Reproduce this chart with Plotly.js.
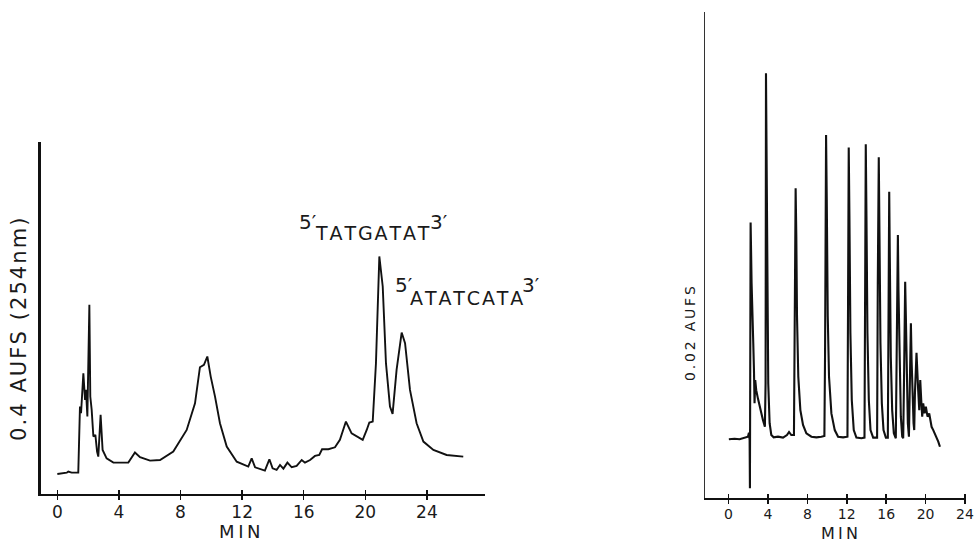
<!DOCTYPE html>
<html>
<head>
<meta charset="utf-8">
<script src="https://cdn.plot.ly/plotly-3.0.1.min.js"></script>
<style>html,body{margin:0;padding:0;background:#fff;}#chart{width:977px;height:542px;}</style>
</head>
<body>
<div id="chart"></div>
<script>
// Left chromatogram: time (min) and absorbance (AU, 0.4 AUFS full scale)
var leftTime = [0, 0.61, 0.71, 0.93, 1.36, 1.47, 1.54, 1.62, 1.69, 1.80, 1.86, 1.95, 2.08, 2.14, 2.23, 2.34, 2.47, 2.58, 2.66, 2.81, 2.94, 3.20, 3.64, 4.61, 5.04, 5.37, 6.02, 6.67, 7.53, 8.40, 8.94, 9.26, 9.52, 9.74, 9.96, 10.24, 10.56, 11.00, 11.65, 12.40, 12.62, 12.84, 13.48, 13.77, 13.98, 14.24, 14.46, 14.68, 14.94, 15.22, 15.54, 15.87, 16.08, 16.41, 16.73, 17.01, 17.19, 17.60, 18.03, 18.35, 18.74, 19.11, 19.44, 19.83, 20.09, 20.26, 20.48, 20.69, 20.91, 21.13, 21.34, 21.60, 21.77, 22.03, 22.36, 22.58, 22.90, 23.33, 23.77, 24.42, 25.28, 26.36];
var leftAbs = [0.0227, 0.0242, 0.0254, 0.0242, 0.0242, 0.0992, 0.0917, 0.1106, 0.1371, 0.1068, 0.1182, 0.0879, 0.2148, 0.1106, 0.0955, 0.0652, 0.0670, 0.0481, 0.0424, 0.0898, 0.0500, 0.0405, 0.0356, 0.0356, 0.0470, 0.0417, 0.0379, 0.0386, 0.0481, 0.0727, 0.1030, 0.1439, 0.1466, 0.1561, 0.1333, 0.1106, 0.0803, 0.0538, 0.0367, 0.0311, 0.0405, 0.0303, 0.0265, 0.0394, 0.0292, 0.0273, 0.0330, 0.0288, 0.0356, 0.0303, 0.0318, 0.0386, 0.0356, 0.0386, 0.0432, 0.0443, 0.0508, 0.0508, 0.0530, 0.0614, 0.0822, 0.0689, 0.0652, 0.0614, 0.0727, 0.0811, 0.0822, 0.1485, 0.2697, 0.2356, 0.1485, 0.0992, 0.0909, 0.1409, 0.1833, 0.1712, 0.1182, 0.0803, 0.0595, 0.0500, 0.0443, 0.0424];

// Right chromatogram: time (min) and absorbance (mAU, 0.02 AUFS full scale)
var rightTime = [0.03,0.61,1.12,1.63,1.97,2.07,2.14,2.17,2.20,2.24,
  2.34,2.41,2.51,2.58,2.64,2.71,2.81,2.98,3.22,3.49,
  3.69,3.76,3.80,3.86,3.93,4.03,4.17,4.34,4.58,5.02,
  5.53,5.93,6.14,6.37,6.64,6.71,6.81,6.88,6.95,7.08,
  7.29,7.56,7.90,8.41,8.92,9.42,9.73,9.80,9.90,9.97,
  10.07,10.20,10.44,10.78,11.12,11.63,12.07,12.14,12.20,12.27,
  12.37,12.51,12.71,12.98,13.49,13.80,13.86,13.93,14.00,14.10,
  14.24,14.41,14.68,15.08,15.15,15.25,15.32,15.42,15.56,15.73,
  15.97,16.17,16.24,16.31,16.37,16.47,16.61,16.78,16.98,17.05,
  17.19,17.25,17.36,17.49,17.63,17.73,17.83,17.93,18.00,18.10,
  18.20,18.31,18.37,18.51,18.58,18.68,18.78,18.85,18.92,19.08,
  19.15,19.25,19.36,19.46,19.56,19.66,19.76,19.90,20.03,20.20,
  20.37,20.61,20.78,20.95,21.12,21.29,21.46];
var rightAbs = [1.82,1.84,1.82,1.90,1.93,2.10,1.79,-0.27,5.62,11.04,
  8.45,6.61,5.90,4.77,3.35,4.34,3.91,3.56,3.06,2.64,
  2.35,4.20,17.39,14.13,8.45,4.20,2.50,2.00,1.90,1.93,
  1.89,2.00,2.13,2.00,2.00,5.62,12.50,10.44,7.04,4.48,
  3.06,2.43,2.07,1.93,1.90,1.93,1.96,5.62,14.77,12.00,
  7.04,4.48,2.92,2.21,1.93,1.90,1.93,8.45,14.23,11.29,
  6.33,3.49,2.21,1.89,1.86,1.89,8.45,14.37,11.29,6.33,
  3.49,2.21,1.89,1.89,8.45,13.82,10.58,5.90,3.35,2.21,
  1.89,1.89,7.04,12.35,9.59,5.33,3.06,2.07,1.86,5.62,
  10.51,8.17,4.91,2.78,1.93,1.86,4.91,8.52,7.04,4.20,
  2.50,1.93,3.06,6.75,5.19,3.35,2.50,2.21,3.77,5.50,
  4.48,3.91,3.06,4.34,3.49,2.78,3.35,2.92,3.21,2.78,
  2.92,2.35,2.21,2.07,1.86,1.72,1.50];

var tickValues = [0, 4, 8, 12, 16, 20, 24];
var tickLabels = ['0', '4', '8', '12', '16', '20', '24'];
var leftYTitle = '0.4 AUFS (254nm)';
var rightYTitle = '0.02 AUFS';
var xTitle = 'MIN';
var peakLabels = [
  {pre: '5\u2032', seq: 'TATGATAT', post: '3\u2032'},
  {pre: '5\u2032', seq: 'ATATCATA', post: '3\u2032'}
];

// text styling helper: widen letter spacing (styling only)
function spaced(s, sep) { return s.split('').join(sep); }

var FONT = 'DejaVu Sans, Liberation Sans, sans-serif';
var INK = '#1a1a1a';

var traces = [
  {x: leftTime, y: leftAbs, xaxis: 'x', yaxis: 'y', type: 'scatter', mode: 'lines',
   line: {color: '#111', width: 1.9, shape: 'linear'}, hoverinfo: 'skip'},
  {x: rightTime, y: rightAbs, xaxis: 'x2', yaxis: 'y2', type: 'scatter', mode: 'lines',
   line: {color: '#111', width: 2.1}, hoverinfo: 'skip'},
  {x: [], y: [], xaxis: 'x3', yaxis: 'y', type: 'scatter', mode: 'lines', hoverinfo: 'skip'},
  {x: [], y: [], xaxis: 'x4', yaxis: 'y2', type: 'scatter', mode: 'lines', hoverinfo: 'skip'},
  {x: [], y: [], xaxis: 'x5', yaxis: 'y', type: 'scatter', mode: 'lines', hoverinfo: 'skip'},
  {x: [], y: [], xaxis: 'x6', yaxis: 'y2', type: 'scatter', mode: 'lines', hoverinfo: 'skip'}
];

// main axes: line + small inside ticks
function xax(domain, range, anchor, lw) {
  return {domain: domain, range: range, anchor: anchor, showgrid: false, zeroline: false,
    showline: true, linecolor: '#111', linewidth: lw, ticks: 'inside', ticklen: 4,
    tickwidth: 1.5, tickcolor: '#111', tickmode: 'array', tickvals: tickValues,
    showticklabels: false, fixedrange: true};
}
// overlay axes: outside part of the crossing ticks
function xover(over, range, anchor) {
  return {overlaying: over, range: range, anchor: anchor, showgrid: false, zeroline: false,
    showline: false, ticks: 'outside', ticklen: 5, tickwidth: 1.5, tickcolor: '#111',
    tickmode: 'array', tickvals: tickValues, showticklabels: false, fixedrange: true};
}
// label-only axes, placed freely so the numbers sit close to the axis line
function xlab(over, range, pos, fsize) {
  return {overlaying: over, range: range, anchor: 'free', position: pos, showgrid: false,
    zeroline: false, showline: false, ticks: '', tickmode: 'array', tickvals: tickValues,
    ticktext: tickLabels, tickfont: {family: FONT, size: fsize, color: INK}, fixedrange: true};
}

var leftXRange = [-1.09, 27.77];
var rightXRange = [-2.39, 24.15];

var annFont = function (s) { return {family: FONT, size: s, color: INK}; };
var HAIR = '\u200A', THIN = '\u2009';
var annotations = [
  {text: spaced(leftYTitle, HAIR), xref: 'paper', yref: 'paper', x: 0.0195, y: 0.393, textangle: -90,
   showarrow: false, font: annFont(21), xanchor: 'center', yanchor: 'middle'},
  {text: spaced(rightYTitle, THIN), xref: 'paper', yref: 'paper', x: 0.7062, y: 0.3856, textangle: -90,
   showarrow: false, font: annFont(14), xanchor: 'center', yanchor: 'middle'},
  {text: spaced(xTitle, THIN), xref: 'paper', yref: 'paper', x: 0.2456, y: 0.0195,
   showarrow: false, font: annFont(18), xanchor: 'center', yanchor: 'middle'},
  {text: spaced(xTitle, THIN), xref: 'paper', yref: 'paper', x: 0.8588, y: 0.0148,
   showarrow: false, font: annFont(16), xanchor: 'center', yanchor: 'middle'},
  // peak labels
  {text: peakLabels[0].pre, xref: 'paper', yref: 'paper', x: 0.3150, y: 0.5904, showarrow: false, font: annFont(20), xanchor: 'center', yanchor: 'middle'},
  {text: spaced(peakLabels[0].seq, HAIR), xref: 'paper', yref: 'paper', x: 0.3813, y: 0.5696, showarrow: false, font: annFont(19), xanchor: 'center', yanchor: 'middle'},
  {text: peakLabels[0].post, xref: 'paper', yref: 'paper', x: 0.4490, y: 0.5895, showarrow: false, font: annFont(20), xanchor: 'center', yanchor: 'middle'},
  {text: peakLabels[1].pre, xref: 'paper', yref: 'paper', x: 0.4130, y: 0.4733, showarrow: false, font: annFont(20), xanchor: 'center', yanchor: 'middle'},
  {text: spaced(peakLabels[1].seq, HAIR), xref: 'paper', yref: 'paper', x: 0.4775, y: 0.4502, showarrow: false, font: annFont(19), xanchor: 'center', yanchor: 'middle'},
  {text: peakLabels[1].post, xref: 'paper', yref: 'paper', x: 0.5440, y: 0.4742, showarrow: false, font: annFont(20), xanchor: 'center', yanchor: 'middle'}
];

var layout = {
  width: 977, height: 542, margin: {l: 0, r: 0, t: 0, b: 0},
  paper_bgcolor: '#fff', plot_bgcolor: 'rgba(0,0,0,0)', showlegend: false,
  font: {family: FONT, color: INK},
  xaxis: xax([0.0415, 0.4964], leftXRange, 'y', 2),
  yaxis: {domain: [0.0886, 0.7386], range: [0, 0.4], anchor: 'x', showgrid: false, zeroline: false,
    showline: true, linecolor: '#111', linewidth: 2.5, ticks: '', showticklabels: false, fixedrange: true},
  xaxis2: xax([0.7216, 0.9892], rightXRange, 'y2', 1.5),
  yaxis2: {domain: [0.0803, 0.9779], range: [-0.70, 20], anchor: 'x2', showgrid: false, zeroline: false,
    showline: true, linecolor: '#333', linewidth: 1.5, ticks: '', showticklabels: false, fixedrange: true},
  xaxis3: xover('x', leftXRange, 'y'),
  xaxis4: xover('x2', rightXRange, 'y2'),
  xaxis5: xlab('x', leftXRange, 0.0775, 17),
  xaxis6: xlab('x2', rightXRange, 0.0710, 14),
  annotations: annotations
};

Plotly.newPlot('chart', traces, layout, {staticPlot: true, displayModeBar: false});
</script>
</body>
</html>
